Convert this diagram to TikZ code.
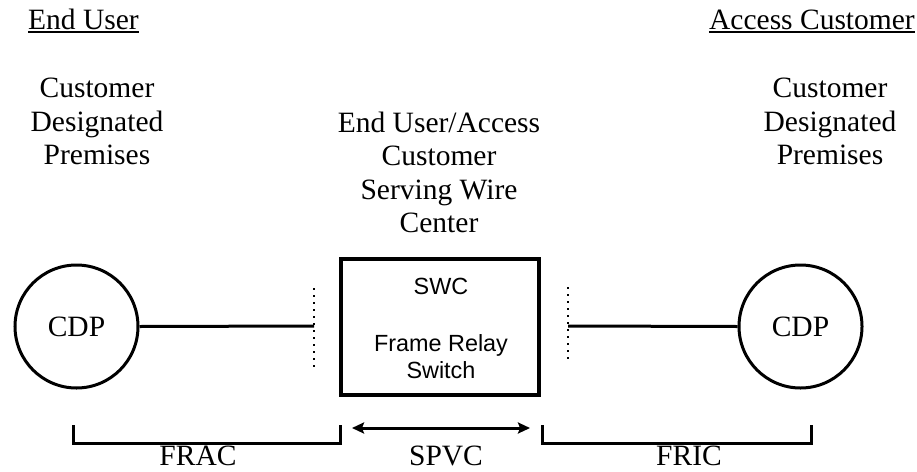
\documentclass[tikz,border=0pt]{standalone}
\usepackage{fontspec}
\setmainfont{Liberation Serif}
\newfontfamily\arialfont{Liberation Sans}
\usetikzlibrary{arrows.meta}
\tikzset{
  serif/.style={font=\fontsize{29.5}{33.5}\selectfont, inner sep=0pt, align=center},
  sans/.style={font=\arialfont\fontsize{23.4}{27}\selectfont, inner sep=0pt, align=center},
  cdp/.style={circle, draw, line width=3pt, minimum size=123pt, inner sep=0pt, font=\fontsize{29.5}{33.5}\selectfont},
  wire/.style={line width=3pt},
  dots/.style={line width=2.2pt, dash pattern=on 2pt off 5pt},
  bracket/.style={line width=3pt},
  spvcarrow/.style={line width=3pt, {Stealth[length=12pt,width=11pt,inset=2pt]}-{Stealth[length=12pt,width=11pt,inset=2pt]}}
}
\begin{document}
\begin{tikzpicture}[x=1pt,y=-1pt]
\useasboundingbox (0,0) rectangle (917,471);
\fill[white] (0,0) rectangle (917,471);
% top labels
\node[serif, anchor=base west] (eu) at (28,29) {End User};
\draw[line width=1.8pt] ([yshift=-3pt]eu.base west) -- ([yshift=-3pt]eu.base east);
\node[serif, anchor=base east] (ac) at (915,29) {Access Customer};
\draw[line width=1.8pt] ([yshift=-3pt]ac.base west) -- ([yshift=-3pt]ac.base east);
% column texts
\node[serif, anchor=north] (cdpLtxt) at (97,78) {Customer\\Designated\\Premises};
\node[serif, anchor=north] (swctxt) at (439,111.5) {End User/Access\\Customer\\Serving Wire\\Center};
\node[serif, anchor=north] (cdpRtxt) at (830,78) {Customer\\Designated\\Premises};
% CDP circles
\node[cdp] (cdpL) at (76.5,326.5) {CDP};
\node[cdp] (cdpR) at (800.5,326.5) {CDP};
% switch box
\node[draw, line width=4.5pt, minimum width=198pt, minimum height=136pt, inner sep=0pt] (swc) at (440,327) {};
\node[sans, anchor=base] (swclabel) at (441,294.5) {SWC};
\node[sans, anchor=base] (frs) at (441,378) {Frame Relay\\Switch};
% dotted demarcation lines
\coordinate (dLt) at (314,288);
\coordinate (dLb) at (314,368);
\coordinate (dL) at (314,326);
\coordinate (dRt) at (568,287);
\coordinate (dRb) at (568,362);
\coordinate (dR) at (568,326);
\draw[dots] (dLt) -- (dLb);
\draw[dots] (dRt) -- (dRb);
\draw[wire] (cdpL.east) -- (dL);
\draw[wire] (dR) -- (cdpR.west);
% brackets
\coordinate (b1a) at (73.5,425);
\coordinate (b1b) at (73.5,443);
\coordinate (b1c) at (340,443);
\coordinate (b1d) at (340,425);
\draw[bracket] (b1a) -- (b1b) -- (b1c) -- (b1d);
\coordinate (b2a) at (542,425);
\coordinate (b2b) at (542,443);
\coordinate (b2c) at (811,443);
\coordinate (b2d) at (811,425);
\draw[bracket] (b2a) -- (b2b) -- (b2c) -- (b2d);
\coordinate (aL) at (352,428);
\coordinate (aR) at (530,428);
\draw[spvcarrow] (aL) -- (aR);
% bottom labels
\node[serif, anchor=base] (frac) at (198,465) {FRAC};
\node[serif, anchor=base] (spvc) at (446,465) {SPVC};
\node[serif, anchor=base] (fric) at (689,465) {FRIC};
\end{tikzpicture}
\end{document}
